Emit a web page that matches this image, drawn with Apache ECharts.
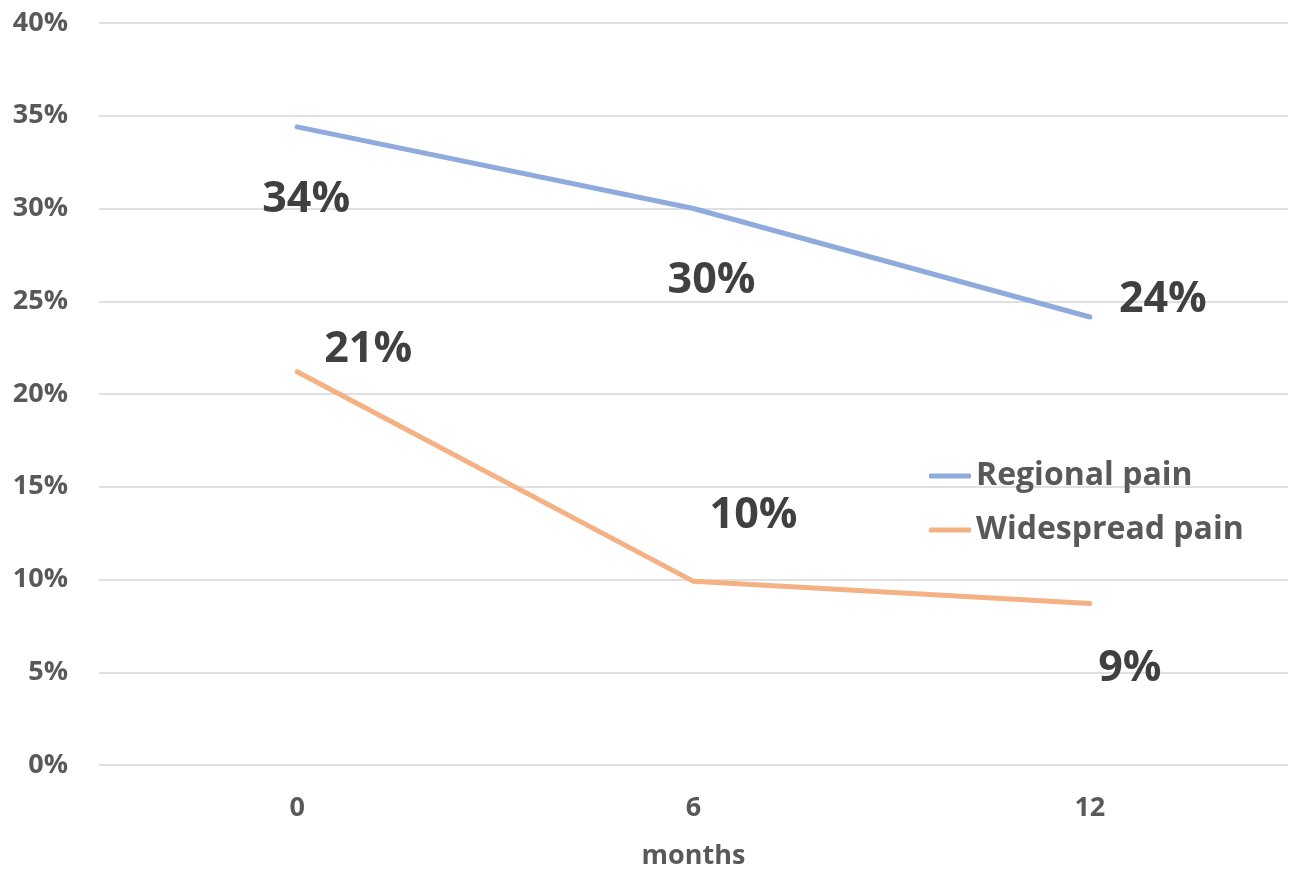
<!DOCTYPE html>
<html><head><meta charset="utf-8">
<script src="https://cdn.jsdelivr.net/npm/echarts@6/dist/echarts.min.js"></script>
<style>html,body{margin:0;padding:0;background:#fff}#c{width:1304px;height:886px}</style>
</head><body><div id="c"></div>
<script>
const categories = ['0', '6', '12'];
const regionalPain = [34.4, 30.0, 24.15];
const widespreadPain = [21.2, 9.9, 8.7];
const yTicks = [0, 5, 10, 15, 20, 25, 30, 35, 40];
const regionalLabelOffsets = [[9, 73], [18, 72], [73, -17]];
const widespreadLabelOffsets = [[71, -22], [60, -66], [40, 65]];

const FONT = '"Open Sans", "Noto Sans", sans-serif';
const chart = echarts.init(document.getElementById('c'));
function mk(vals, offs) {
  return vals.map((v, i) => ({ value: v, label: { offset: offs[i] } }));
}
const labelStyle = {
  show: true, position: 'inside', fontFamily: FONT, fontWeight: 'bold',
  fontSize: 43, color: '#404040', formatter: p => Math.round(p.value) + '%'
};
chart.setOption({
  animation: false,
  grid: { left: 99, right: 16, top: 23, bottom: 121 },
  legend: {
    orient: 'vertical', left: 924, top: 455, itemGap: 22,
    itemWidth: 42, itemHeight: 5, icon: 'roundRect',
    textStyle: { fontFamily: FONT, fontWeight: 'bold', fontSize: 32, color: '#595959' },
    data: ['Regional pain', 'Widespread pain']
  },
  xAxis: {
    type: 'category', data: categories, boundaryGap: true,
    name: 'months', nameLocation: 'middle', nameGap: 78,
    nameTextStyle: { fontFamily: FONT, fontWeight: 'bold', fontSize: 27, color: '#595959' },
    axisLine: { show: false }, axisTick: { show: false },
    axisLabel: { margin: 30, fontFamily: FONT, fontWeight: 'bold', fontSize: 27, color: '#595959' }
  },
  yAxis: {
    type: 'value', min: yTicks[0], max: yTicks[yTicks.length - 1], interval: 5,
    axisLine: { show: false }, axisTick: { show: false },
    splitLine: { lineStyle: { color: '#e0e0e0', width: 2 } },
    axisLabel: { margin: 31, fontFamily: FONT, fontWeight: 'bold', fontSize: 27, color: '#595959', formatter: v => v + '%' }
  },
  series: [
    { name: 'Regional pain', type: 'line', data: mk(regionalPain, regionalLabelOffsets),
      symbol: 'circle', symbolSize: 0.1, showSymbol: true, itemStyle: { color: '#8faadc' },
      lineStyle: { color: '#8faadc', width: 5, cap: 'round', join: 'round' }, label: labelStyle },
    { name: 'Widespread pain', type: 'line', data: mk(widespreadPain, widespreadLabelOffsets),
      symbol: 'circle', symbolSize: 0.1, showSymbol: true, itemStyle: { color: '#f4b183' },
      lineStyle: { color: '#f4b183', width: 5, cap: 'round', join: 'round' }, label: labelStyle }
  ]
});
</script></body></html>
